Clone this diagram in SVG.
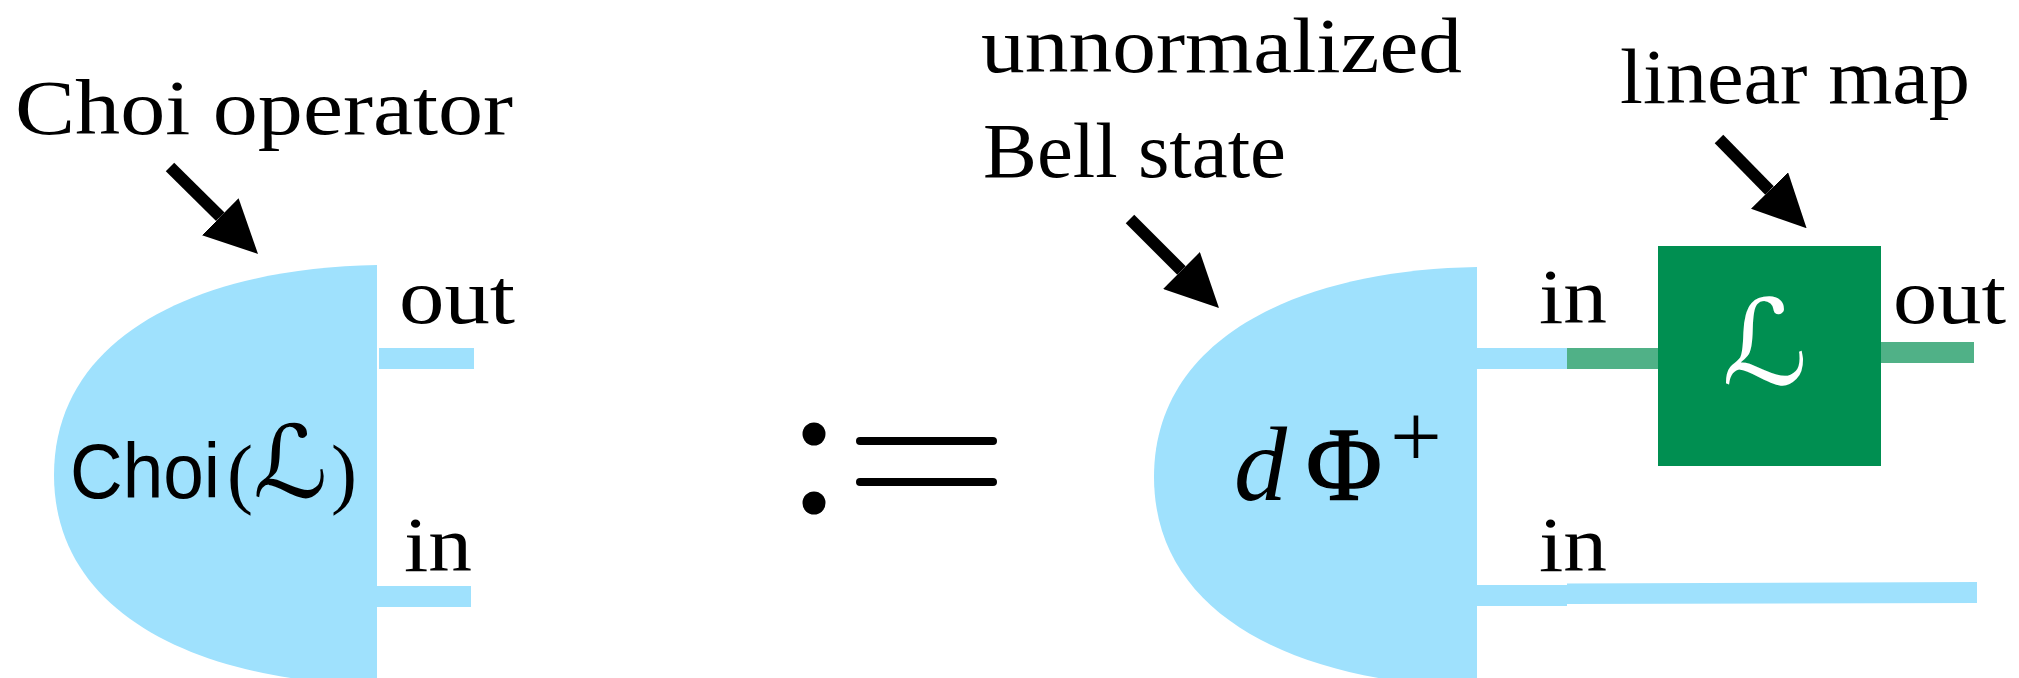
<svg xmlns="http://www.w3.org/2000/svg" width="2019" height="678" viewBox="0 0 2019 678">
<defs>
<style>
.lbl{font-family:"Liberation Serif","Times New Roman",serif;font-size:78px;fill:#000}
.blob{fill:#9fe1fd}
.wire{fill:#9fe1fd}
.gwire{fill:#50b187}
.arr{stroke:#000;stroke-width:12;fill:none}
.eq{stroke:#000;stroke-width:8;stroke-linecap:round}
.script{font-family:"DejaVu Serif","DejaVu Sans",serif;font-style:italic}
</style>
<marker id="head" markerUnits="userSpaceOnUse" viewBox="0 0 53 52" refX="0" refY="26" markerWidth="53" markerHeight="52" orient="auto">
<path d="M0,0 L53,26 L0,52 Z" fill="#000"/>
</marker>
<path id="blobShape" d="M377,265 C200,268 54,335 54,475 C54,615 200,682 377,685 Z"/>
</defs>
<rect width="2019" height="678" fill="#fff"/>

<g id="choi">
<use href="#blobShape" class="blob"/>
<rect class="wire" x="379" y="348" width="95" height="21"/>
<rect class="wire" x="377" y="586" width="94" height="21"/>
<text x="70" y="498" font-family="Liberation Sans, Arial, sans-serif" font-size="75" textLength="150" lengthAdjust="spacingAndGlyphs" transform="translate(70 498) scale(1 1.04) translate(-70 -498)">Choi</text>
<text x="227" y="499" font-family="Liberation Serif, serif" font-size="78">(<tspan class="script" x="253" y="497" font-size="100" textLength="75" lengthAdjust="spacingAndGlyphs">ℒ</tspan><tspan x="331" y="499">)</tspan></text>
<text class="lbl" x="399" y="323" textLength="116" lengthAdjust="spacingAndGlyphs">out</text>
<text class="lbl" x="404" y="571" textLength="68" lengthAdjust="spacingAndGlyphs">in</text>
</g>

<g id="label-choi-operator">
<text class="lbl" x="15" y="134" textLength="498" lengthAdjust="spacingAndGlyphs">Choi operator</text>
</g>

<g id="defeq">
<circle cx="814" cy="434" r="11.5"/>
<circle cx="814" cy="503" r="11.5"/>
<line class="eq" x1="860" y1="441" x2="993" y2="441"/>
<line class="eq" x1="860" y1="482" x2="993" y2="482"/>
</g>

<g id="bell">
<use href="#blobShape" class="blob" transform="translate(1100,2)"/>
<rect class="wire" x="1474" y="348" width="94" height="21"/>
<rect class="wire" x="1474" y="585" width="93" height="21"/>
<text x="1234" y="500" font-family="Liberation Serif, serif" font-style="italic" font-size="106">d</text>
<text x="1306" y="499" font-family="Liberation Serif, serif" font-size="104" stroke="#000" stroke-width="1.5">Φ</text>
<text x="1390" y="467" font-family="Liberation Serif, serif" font-size="92">+</text>
<text class="lbl" x="1539" y="323" textLength="68" lengthAdjust="spacingAndGlyphs">in</text>
<text class="lbl" x="1539" y="571" textLength="68" lengthAdjust="spacingAndGlyphs">in</text>
</g>

<g id="label-bell">
<text class="lbl" x="981" y="72" textLength="481" lengthAdjust="spacingAndGlyphs">unnormalized</text>
<text class="lbl" x="983" y="177" textLength="303" lengthAdjust="spacingAndGlyphs">Bell state</text>
</g>

<g id="map">
<rect class="gwire" x="1567" y="348" width="92" height="21"/>
<rect class="gwire" x="1880" y="342" width="94" height="21"/>
<rect x="1658" y="246" width="223" height="220" fill="#008f51"/>
<text class="script" x="1722" y="384" font-size="118" fill="#fff" textLength="86" lengthAdjust="spacingAndGlyphs">ℒ</text>
<text class="lbl" x="1893" y="323" textLength="113" lengthAdjust="spacingAndGlyphs">out</text>
</g>

<g id="label-linear-map">
<text class="lbl" x="1620" y="103" textLength="350" lengthAdjust="spacingAndGlyphs">linear map</text>
</g>

<g id="wire-bottom">
<polygon class="wire" points="1567,583.5 1977,582 1977,603 1567,604"/>
</g>

<g id="connectors">
<line class="arr" x1="170" y1="167" x2="220.3" y2="216.7" marker-end="url(#head)"/>
<line class="arr" x1="1130" y1="219" x2="1181.5" y2="270.5" marker-end="url(#head)"/>
<line class="arr" x1="1719" y1="139" x2="1769.5" y2="190.5" marker-end="url(#head)"/>
</g>
</svg>
